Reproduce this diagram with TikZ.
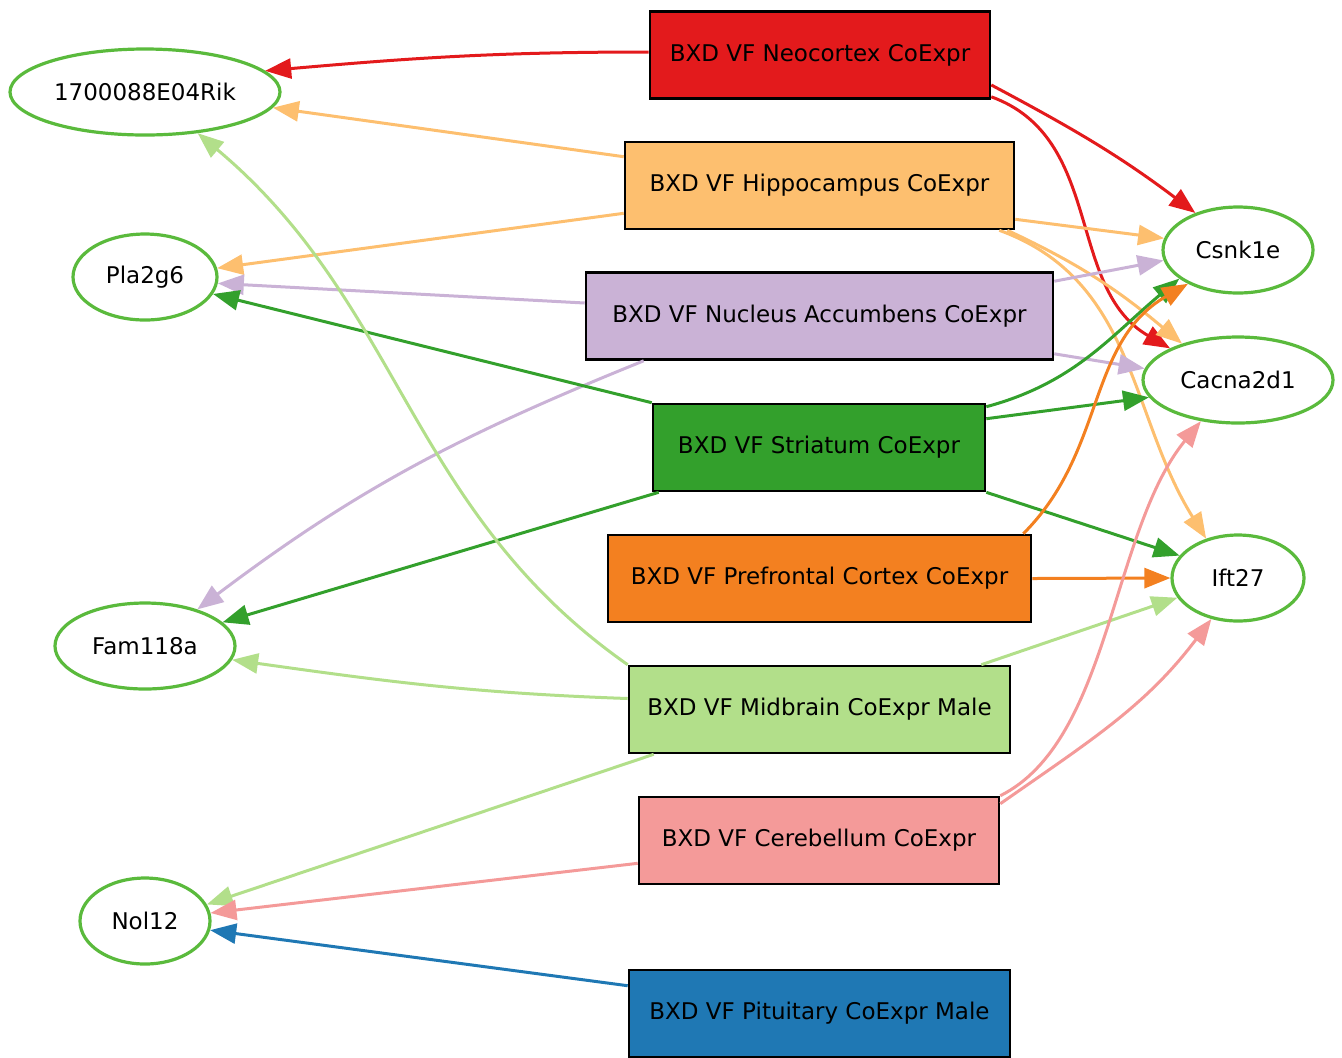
\documentclass[tikz,border=0pt]{standalone}
\usepackage{fontspec}
\setmainfont{DejaVu Sans}
\definecolor{neored}{RGB}{227,26,28}
\definecolor{hiporange}{RGB}{253,191,111}
\definecolor{naclilac}{RGB}{202,178,214}
\definecolor{strgreen}{RGB}{51,160,44}
\definecolor{pfcorange}{RGB}{243,128,32}
\definecolor{midgreen}{RGB}{178,223,138}
\definecolor{cerpink}{RGB}{244,154,153}
\definecolor{pitblue}{RGB}{31,120,180}
\definecolor{genegreen}{RGB}{90,186,60}
\usetikzlibrary{shapes.geometric,arrows.meta,calc}

\begin{document}
\begin{tikzpicture}[x=0.5pt,y=-0.5pt,font=\fontsize{11.5pt}{13pt}\selectfont,
    gene/.style={ellipse, draw=genegreen, line width=1.6pt, fill=white,
                 inner sep=0pt, minimum height=43pt},
    dataset/.style={rectangle, draw=black, line width=1.3pt, inner sep=0pt,
                    minimum height=43.5pt},
    link/.style={-{Triangle[length=13pt,width=10pt]}, line width=1.5pt}]
  \useasboundingbox (0,0) rectangle (1342,1057);

  % genes on the left
  \node[gene, minimum width=135pt] (rik) at (145,92) {1700088E04Rik};
  \node[gene, minimum width=72pt]  (pla) at (145,277) {Pla2g6};
  \node[gene, minimum width=90pt]  (fam) at (145,646) {Fam118a};
  \node[gene, minimum width=65pt]  (nol) at (145,921) {Nol12};
  % genes on the right
  \node[gene, minimum width=75pt]  (csn) at (1238,250) {Csnk1e};
  \node[gene, minimum width=95pt]  (cac) at (1238,380) {Cacna2d1};
  \node[gene, minimum width=66pt]  (ift) at (1238,578) {Ift27};

  % data sets
  \node[dataset, fill=neored,    minimum width=170pt]   (neo) at (820,55)    {BXD VF Neocortex CoExpr};
  \node[dataset, fill=hiporange, minimum width=194.5pt] (hip) at (819.5,185.5) {BXD VF Hippocampus CoExpr};
  \node[dataset, fill=naclilac,  minimum width=233.5pt] (nac) at (819.5,316)  {BXD VF Nucleus Accumbens CoExpr};
  \node[dataset, fill=strgreen,  minimum width=166pt]   (str) at (819,447.5)  {BXD VF Striatum CoExpr};
  \node[dataset, fill=pfcorange, minimum width=211.5pt] (pfc) at (819.5,578.5) {BXD VF Prefrontal Cortex CoExpr};
  \node[dataset, fill=midgreen,  minimum width=190.5pt] (mid) at (819.5,709.5) {BXD VF Midbrain CoExpr Male};
  \node[dataset, fill=cerpink,   minimum width=180pt]   (cer) at (819,840.5)  {BXD VF Cerebellum CoExpr};
  \node[dataset, fill=pitblue,   minimum width=190.5pt] (pit) at (819.5,1013.5) {BXD VF Pituitary CoExpr Male};

  % neocortex
  \draw[link, neored] ($(neo.west)+(0,-3)$) to[out=180,in=5] (rik.10);
  \draw[link, neored] ($(neo.east)+(0,30)$) to[out=-28,in=143] (csn.139);
  \draw[link, neored] ($(neo.south east)+(0,-3)$) to[out=-20,in=150] (cac.155);
  % hippocampus
  \draw[link, hiporange] ($(hip.north west)+(0,16)$) -- (rik.-7);
  \draw[link, hiporange] ($(hip.south west)+(0,-17)$) -- (pla.7);
  \draw[link, hiporange] ($(hip.south east)+(0,-11)$) -- (csn.171);
  \draw[link, hiporange] ($(hip.south east)+(-8,0)$) to[out=-25,in=140] (cac.147);
  \draw[link, hiporange] ($(hip.south east)+(-16,0)$) to[out=-20,in=122] (ift.129);
  % nucleus accumbens
  \draw[link, naclilac] ($(nac.west)+(0,-13)$) -- (pla.-5);
  \draw[link, naclilac] ($(nac.north east)+(0,10)$) -- (csn.-172);
  \draw[link, naclilac] ($(nac.south east)+(0,-7)$) -- (cac.173);
  \draw[link, naclilac] ($(nac.south west)+(59,0)$) to[out=202,in=37] (fam.35);
  % striatum
  \draw[link, strgreen] (str.north west) -- (pla.-14);
  \draw[link, strgreen] ($(str.north east)+(0,4)$) to[out=15,in=220] (csn.206);
  \draw[link, strgreen] ($(str.north east)+(0,16)$) -- (cac.191);
  \draw[link, strgreen] (str.south east) -- (ift.159);
  \draw[link, strgreen] ($(str.south west)+(7,0)$) -- (fam.17);
  % prefrontal cortex
  \draw[link, pfcorange] ($(pfc.north east)+(-9,0)$) to[out=45,in=210] (csn.214);
  \draw[link, pfcorange] (pfc.east) -- (ift.180);
  % midbrain
  \draw[link, midgreen] (mid.north west) to[out=145,in=-40] (rik.-38);
  \draw[link, midgreen] ($(mid.west)+(0,-11)$) to[out=178,in=-8] (fam.-9);
  \draw[link, midgreen] ($(mid.north east)+(-30,0)$) -- (ift.198);
  \draw[link, midgreen] ($(mid.south west)+(26,0)$) -- (nol.15);
  % cerebellum
  \draw[link, cerpink] (cer.north east) .. controls +(110,-55) and +(-90,110) .. (cac.-132);
  \draw[link, cerpink] ($(cer.north east)+(0,8)$) to[out=35,in=233] (ift.-123);
  \draw[link, cerpink] ($(cer.south west)+(0,-22)$) -- (nol.7);
  % pituitary
  \draw[link, pitblue] ($(pit.north west)+(0,17)$) -- (nol.-8);
\end{tikzpicture}
\end{document}
